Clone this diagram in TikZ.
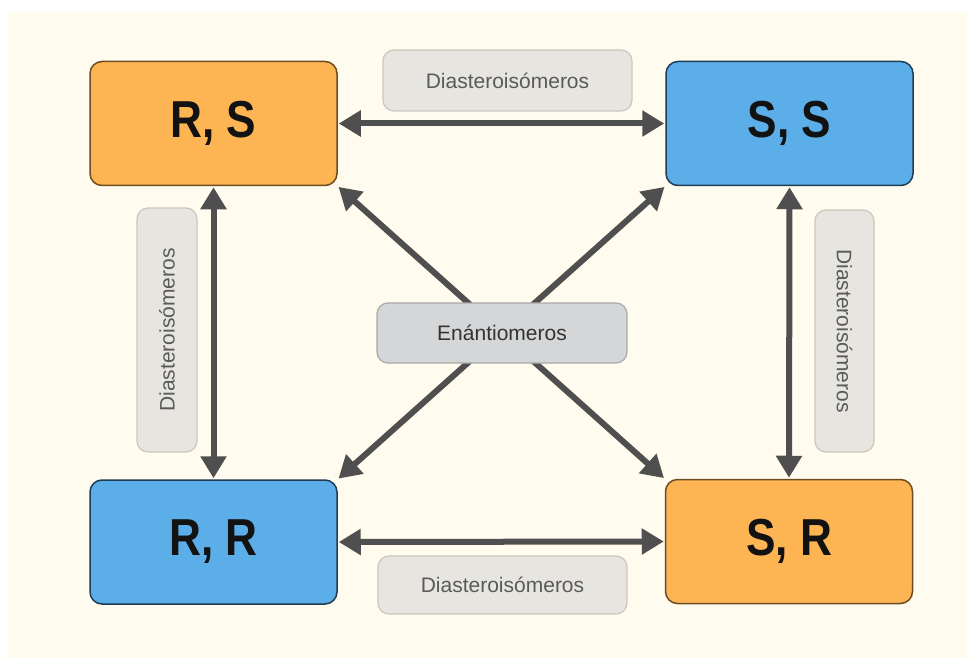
\documentclass[tikz,border=0pt]{standalone}
\usepackage{fontspec}
\setmainfont{Liberation Sans}
\newfontfamily\boxfont[FakeStretch=0.85]{Liberation Sans}
\usetikzlibrary{arrows.meta}
\definecolor{bgcream}{HTML}{FFFBEE}
\definecolor{orfill}{HTML}{FDB453}
\definecolor{ordraw}{HTML}{6E4C22}
\definecolor{blfill}{HTML}{5BAEE8}
\definecolor{bldraw}{HTML}{203C55}
\definecolor{lblfill}{HTML}{E7E5E0}
\definecolor{lbldraw}{HTML}{CAC7C0}
\definecolor{cenfill}{HTML}{D5D6D7}
\definecolor{cendraw}{HTML}{A9A9A9}
\definecolor{arrcol}{HTML}{4F4F4F}
\definecolor{lbltext}{HTML}{5A5A5A}
\begin{document}
\begin{tikzpicture}[x=1pt,y=-1pt,
  isobox/.style={rectangle, rounded corners=12pt, line width=1.5pt, minimum width=247pt, minimum height=124pt, inner sep=0pt, text=black!93, font=\boxfont\bfseries\fontsize{52}{52}\selectfont},
  orbox/.style={isobox, fill=orfill, draw=ordraw},
  blbox/.style={isobox, fill=blfill, draw=bldraw},
  lbl/.style={rectangle, rounded corners=11pt, line width=1.2pt, fill=lblfill, draw=lbldraw, inner sep=0pt, text=lbltext, font=\fontsize{21}{21}\selectfont},
  cenlbl/.style={lbl, fill=cenfill, draw=cendraw, text=black!80},
  arr/.style={draw=arrcol, line width=6pt, {Triangle[length=22pt,width=25pt]}-{Triangle[length=22pt,width=25pt]}, shorten <=1pt, shorten >=1pt}
]
\useasboundingbox (0,0) rectangle (967,658);
\fill[white] (0,0) rectangle (967,658);
\fill[bgcream] (8,12) rectangle (967,658);

\node[orbox] (rs) at (213.5,123.5) {R, S};
\node[blbox] (ss) at (789.5,123.5) {S, S};
\node[blbox] (rr) at (213.5,542) {R, R};
\node[orbox] (sr) at (789,541.5) {S, R};

\draw[arr] (rs.east) -- (ss.west);
\draw[arr] (rr.east) -- (sr.west);
\draw[arr] (rs.south) -- (rr.north);
\draw[arr] (ss.south) -- (sr.north);
\draw[arr] (rs.south east) -- (sr.north west);
\draw[arr] (ss.south west) -- (rr.north east);

\node[lbl, minimum width=249pt, minimum height=61pt] (ltop) at (507.5,80.5) {Diasteroisómeros};
\node[lbl, minimum width=249pt, minimum height=58pt] (lbot) at (502.5,585) {Diasteroisómeros};
\node[lbl, minimum width=60pt, minimum height=244pt] (lleft) at (167,330) {};
\node[rotate=90, text=lbltext, font=\fontsize{21}{21}\selectfont] (tleft) at (lleft.center) {Diasteroisómeros};
\node[lbl, minimum width=59pt, minimum height=242pt] (lright) at (844.5,331) {};
\node[rotate=-90, text=lbltext, font=\fontsize{21}{21}\selectfont] (tright) at (lright.center) {Diasteroisómeros};
\node[cenlbl, minimum width=250pt, minimum height=60pt] (cen) at (502,333) {Enántiomeros};
\end{tikzpicture}
\end{document}
